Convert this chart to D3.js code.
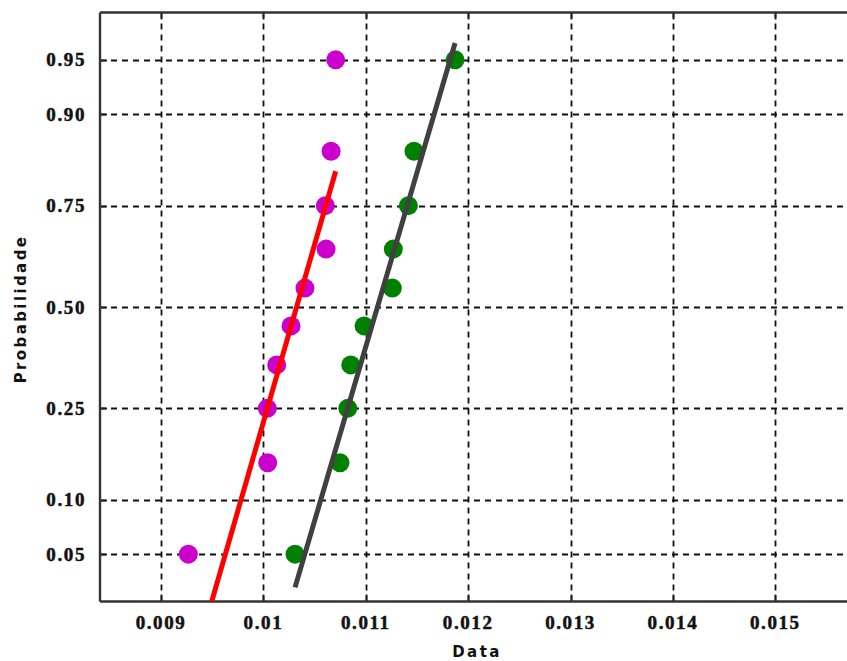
<!DOCTYPE html>
<html>
<head>
<meta charset="utf-8">
<script src="https://cdn.jsdelivr.net/npm/d3@7/dist/d3.min.js"></script>
<style>
  html, body { margin: 0; padding: 0; background: #fff; }
  svg { display: block; }
  .tick-label { font-family: "Liberation Serif", "Times New Roman", serif; font-weight: bold; font-size: 19px; letter-spacing: 1.6px; fill: #111; stroke: #111; stroke-width: 0.5px; }
  .axis-title { font-family: "DejaVu Sans", Verdana, sans-serif; font-weight: bold; font-size: 15px; letter-spacing: 2.4px; fill: #111; }
</style>
</head>
<body>
<script>
// Plotting positions (probabilities) shared by both samples
const probs = [0.05, 0.15, 0.25, 0.35, 0.45, 0.55, 0.65, 0.75, 0.85, 0.95];

// Sorted sample values
const sampleA = [0.009267, 0.010042, 0.010038, 0.010130, 0.010270, 0.010406, 0.010612, 0.010605, 0.010661, 0.010706];
const sampleB = [0.010309, 0.010748, 0.010824, 0.010853, 0.010983, 0.011259, 0.011269, 0.011416, 0.011471, 0.011872];

// Normal reference lines: [mean, standard deviation]
const fitA = [0.010324, 0.0004228];
const fitB = [0.011114, 0.0004314];

// Axis ticks
const xTicks = [0.009, 0.010, 0.011, 0.012, 0.013, 0.014, 0.015];
const xTickLabels = ["0.009", "0.01", "0.011", "0.012", "0.013", "0.014", "0.015"];
const yTicks = [0.05, 0.10, 0.25, 0.50, 0.75, 0.90, 0.95];
const yTickLabels = ["0.05", "0.10", "0.25", "0.50", "0.75", "0.90", "0.95"];

// Inverse standard normal CDF (Acklam's rational approximation)
function probit(p) {
  const a = [-3.969683028665376e+01, 2.209460984245205e+02, -2.759285104469687e+02, 1.383577518672690e+02, -3.066479806614716e+01, 2.506628277459239e+00];
  const b = [-5.447609879822406e+01, 1.615858368580409e+02, -1.556989798598866e+02, 6.680131188771972e+01, -1.328068155288572e+01];
  const c = [-7.784894002430293e-03, -3.223964580411365e-01, -2.400758277161838e+00, -2.549732539343734e+00, 4.374664141464968e+00, 2.938163982698783e+00];
  const d = [7.784695709041462e-03, 3.224671290700398e-01, 2.445134137142996e+00, 3.754408661907416e+00];
  const pl = 0.02425, ph = 1 - pl;
  let q, r;
  if (p < pl) {
    q = Math.sqrt(-2 * Math.log(p));
    return (((((c[0]*q+c[1])*q+c[2])*q+c[3])*q+c[4])*q+c[5]) / ((((d[0]*q+d[1])*q+d[2])*q+d[3])*q+1);
  }
  if (p <= ph) {
    q = p - 0.5; r = q * q;
    return (((((a[0]*r+a[1])*r+a[2])*r+a[3])*r+a[4])*r+a[5])*q / (((((b[0]*r+b[1])*r+b[2])*r+b[3])*r+b[4])*r+1);
  }
  q = Math.sqrt(-2 * Math.log(1 - p));
  return -(((((c[0]*q+c[1])*q+c[2])*q+c[3])*q+c[4])*q+c[5]) / ((((d[0]*q+d[1])*q+d[2])*q+d[3])*q+1);
}

(function () {
  const W = 847, H = 661;
  const mLeft = 100, mRight = 847, mTop = 12.5, mBottom = 601.5;

  const svg = d3.select("body").append("svg").attr("width", W).attr("height", H);

  const x = d3.scaleLinear().domain([0.008404, 0.0157]).range([mLeft, mRight]);
  // vertical axis is linear in the normal quantile (probability paper)
  const z = d3.scaleLinear().domain([-1.96, 1.96]).range([mBottom, mTop]);
  const y = p => z(probit(p));

  svg.append("defs").append("clipPath").attr("id", "plot-clip")
    .append("rect").attr("x", mLeft).attr("y", mTop).attr("width", mRight - mLeft).attr("height", mBottom - mTop);

  // Grid
  const grid = svg.append("g").attr("stroke", "#111").attr("stroke-width", 1.8).attr("stroke-dasharray", "6,5");
  grid.selectAll("line.gx").data(xTicks).join("line").attr("class", "gx")
    .attr("x1", d => Math.round(x(d)) + 0.5).attr("x2", d => Math.round(x(d)) + 0.5)
    .attr("y1", mTop).attr("y2", mBottom);
  grid.selectAll("line.gy").data(yTicks).join("line").attr("class", "gy")
    .attr("x1", mLeft).attr("x2", mRight)
    .attr("y1", d => Math.round(y(d)) + 0.5).attr("y2", d => Math.round(y(d)) + 0.5);

  // Tick marks (inside the frame)
  const ticks = svg.append("g").attr("stroke", "#222").attr("stroke-width", 1.8);
  ticks.selectAll("line.tb").data(xTicks).join("line").attr("class", "tb")
    .attr("x1", d => Math.round(x(d)) + 0.5).attr("x2", d => Math.round(x(d)) + 0.5)
    .attr("y1", mBottom).attr("y2", mBottom - 7);
  ticks.selectAll("line.tt").data(xTicks).join("line").attr("class", "tt")
    .attr("x1", d => Math.round(x(d)) + 0.5).attr("x2", d => Math.round(x(d)) + 0.5)
    .attr("y1", mTop).attr("y2", mTop + 7);
  ticks.selectAll("line.tl").data(yTicks).join("line").attr("class", "tl")
    .attr("x1", mLeft).attr("x2", mLeft + 7)
    .attr("y1", d => Math.round(y(d)) + 0.5).attr("y2", d => Math.round(y(d)) + 0.5);

  // Frame: left, bottom and top edges
  const frame = svg.append("g").attr("stroke", "#333").attr("stroke-width", 2.4).attr("fill", "none");
  frame.append("line").attr("x1", mLeft).attr("x2", mLeft).attr("y1", mTop).attr("y2", mBottom);
  frame.append("line").attr("x1", mLeft).attr("x2", mRight).attr("y1", mBottom).attr("y2", mBottom);
  frame.append("line").attr("x1", mLeft).attr("x2", mRight).attr("y1", mTop).attr("y2", mTop);

  // Tick labels
  svg.append("g").selectAll("text").data(xTicks).join("text")
    .attr("class", "tick-label")
    .attr("x", d => x(d)).attr("y", 629)
    .attr("text-anchor", "middle")
    .text((d, i) => xTickLabels[i]);
  svg.append("g").selectAll("text").data(yTicks).join("text")
    .attr("class", "tick-label")
    .attr("x", 86).attr("y", d => y(d) + 6.5)
    .attr("text-anchor", "end")
    .text((d, i) => yTickLabels[i]);

  // Axis titles
  svg.append("text").attr("class", "axis-title")
    .attr("x", 477).attr("y", 657).attr("text-anchor", "middle").text("Data");
  svg.append("text").attr("class", "axis-title")
    .attr("transform", "translate(26,309) rotate(-90)").attr("text-anchor", "middle").text("Probabilidade");

  const plot = svg.append("g").attr("clip-path", "url(#plot-clip)");

  // Sample points
  function drawPoints(values, color) {
    plot.append("g").selectAll("circle").data(values).join("circle")
      .attr("cx", d => x(d)).attr("cy", (d, i) => y(probs[i]))
      .attr("r", 9.5).attr("fill", color);
  }
  drawPoints(sampleA, "#cc00cc");
  drawPoints(sampleB, "#008000");

  // Normal reference lines spanning each sample's range
  function drawFit(values, fit, color) {
    const [mu, sd] = fit;
    const ends = [d3.min(values), d3.max(values)];
    plot.append("line")
      .attr("x1", x(ends[0])).attr("y1", z((ends[0] - mu) / sd))
      .attr("x2", x(ends[1])).attr("y2", z((ends[1] - mu) / sd))
      .attr("stroke", color).attr("stroke-width", 5);
  }
  drawFit(sampleA, fitA, "#ff0000");
  drawFit(sampleB, fitB, "#404040");
})();
</script>
</body>
</html>
